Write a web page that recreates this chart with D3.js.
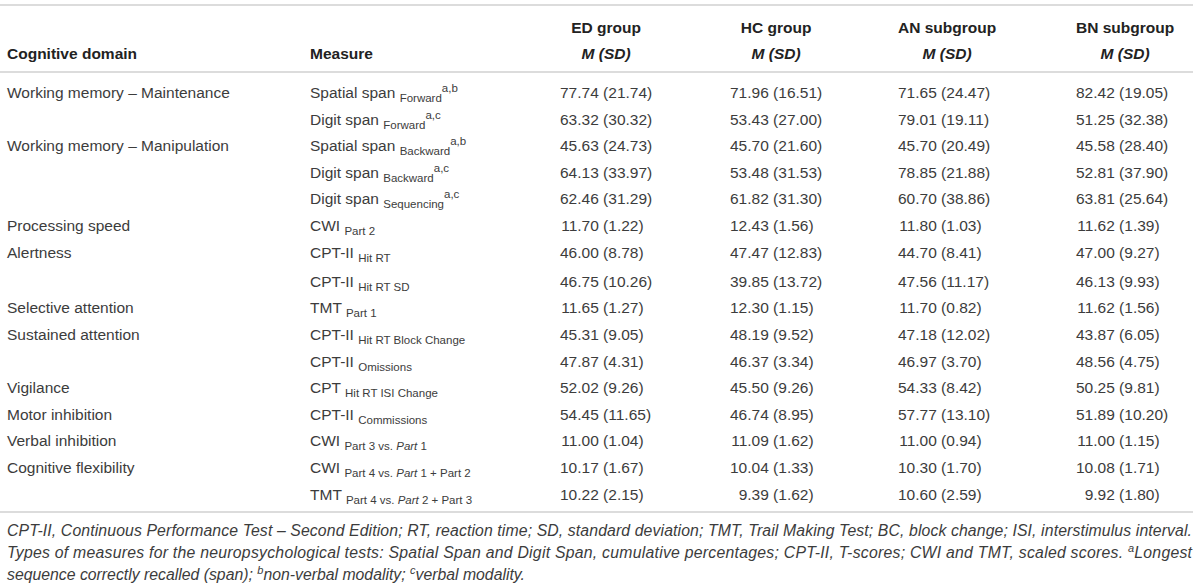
<!DOCTYPE html>
<html>
<head>
<meta charset="utf-8">
<script src="https://cdn.jsdelivr.net/npm/d3@7"></script>
<style>
  html, body { margin: 0; padding: 0; background: #fff; }
  svg { display: block; font-family: "Liberation Sans", Arial, sans-serif; }
</style>
</head>
<body>
<svg id="chart"></svg>
<script>
// Table content
const groups = ["ED group", "HC group", "AN subgroup", "BN subgroup"]
const domains = [
  "Working memory – Maintenance", "", "Working memory – Manipulation", "", "",
  "Processing speed", "Alertness", "", "Selective attention", "Sustained attention", "",
  "Vigilance", "Motor inhibition", "Verbal inhibition", "Cognitive flexibility", ""
]
const measureNames = [
  "Spatial span", "Digit span", "Spatial span", "Digit span", "Digit span",
  "CWI", "CPT-II", "CPT-II", "TMT", "CPT-II", "CPT-II", "CPT", "CPT-II", "CWI", "CWI", "TMT"
]
// *...* marks italic parts of a subscript
const measureSubs = [
  "Forward", "Forward", "Backward", "Backward", "Sequencing",
  "Part 2", "Hit RT", "Hit RT SD", "Part 1", "Hit RT Block Change", "Omissions",
  "Hit RT ISI Change", "Commissions", "Part 3 vs. *Part* 1",
  "Part 4 vs. *Part* 1 + Part 2", "Part 4 vs. *Part* 2 + Part 3"
]
const measureSups = ["a,b", "a,c", "a,b", "a,c", "a,c", "", "", "", "", "", "", "", "", "", "", ""]

const edMean = [77.74, 63.32, 45.63, 64.13, 62.46, 11.70, 46.00, 46.75, 11.65, 45.31, 47.87, 52.02, 54.45, 11.00, 10.17, 10.22]
const edSD   = [21.74, 30.32, 24.73, 33.97, 31.29, 1.22, 8.78, 10.26, 1.27, 9.05, 4.31, 9.26, 11.65, 1.04, 1.67, 2.15]
const hcMean = [71.96, 53.43, 45.70, 53.48, 61.82, 12.43, 47.47, 39.85, 12.30, 48.19, 46.37, 45.50, 46.74, 11.09, 10.04, 9.39]
const hcSD   = [16.51, 27.00, 21.60, 31.53, 31.30, 1.56, 12.83, 13.72, 1.15, 9.52, 3.34, 9.26, 8.95, 1.62, 1.33, 1.62]
const anMean = [71.65, 79.01, 45.70, 78.85, 60.70, 11.80, 44.70, 47.56, 11.70, 47.18, 46.97, 54.33, 57.77, 11.00, 10.30, 10.60]
const anSD   = [24.47, 19.11, 20.49, 21.88, 38.86, 1.03, 8.41, 11.17, 0.82, 12.02, 3.70, 8.42, 13.10, 0.94, 1.70, 2.59]
const bnMean = [82.42, 51.25, 45.58, 52.81, 63.81, 11.62, 47.00, 46.13, 11.62, 43.87, 48.56, 50.25, 51.89, 11.00, 10.08, 9.92]
const bnSD   = [19.05, 32.38, 28.40, 37.90, 25.64, 1.39, 9.27, 9.93, 1.56, 6.05, 4.75, 9.81, 10.20, 1.15, 1.71, 1.80]

const footLines = [
  [["CPT-II, Continuous Performance Test – Second Edition; RT, reaction time; SD, standard deviation; TMT, Trail Making Test; BC, block change; ISI, interstimulus interval.", false]],
  [["Types of measures for the neuropsychological tests: Spatial Span and Digit Span, cumulative percentages; CPT-II, T-scores; CWI and TMT, scaled scores. ", false], ["a", true], ["Longest", false]],
  [["sequence correctly recalled (span); ", false], ["b", true], ["non-verbal modality; ", false], ["c", true], ["verbal modality.", false]]
]

const means = [edMean, hcMean, anMean, bnMean]
const sds = [edSD, hcSD, anSD, bnSD]

// Layout
const W = 1200
const H = 586
const FS = 15.5
const SUB_FS = 11.5
const TEXT = "#3c3c3c"
const HEAD = "#222"
const RULE = "#dcdcdc"

const svg = d3.select("#chart").attr("width", W).attr("height", H)
svg.append("rect").attr("width", W).attr("height", H).attr("fill", "#fff")

const rows = d3.range(domains.length)
const yRow = d3.scalePoint().domain(rows).range([98, 98 + 26.6 * (rows.length - 1)])
// rows below the Alertness block sit a little lower in the original
const rowY = (i) => yRow(i) + (i >= 7 ? 2.5 : 0)

const colLeft = d3.scaleOrdinal().domain(groups).range([560, 730, 898, 1076])
const X_DOMAIN = 7
const X_MEASURE = 310

function textWidth(str, weight) {
  const t = svg.append("text").attr("font-size", FS).attr("font-weight", weight || "normal").text(str)
  const w = t.node().getComputedTextLength()
  t.remove()
  return w
}

// Rules
const rules = [5, 72, 512]
svg.selectAll("line.rule")
  .data(rules)
  .join("line")
  .attr("class", "rule")
  .attr("x1", 0)
  .attr("x2", 1193)
  .attr("y1", (d) => d)
  .attr("y2", (d) => d)
  .attr("stroke", RULE)
  .attr("stroke-width", 2)

// Header
const head = svg.append("g").attr("font-weight", "bold").attr("font-size", FS).attr("fill", HEAD)
head.append("text").attr("x", X_DOMAIN).attr("y", 59).text("Cognitive domain")
head.append("text").attr("x", X_MEASURE).attr("y", 59).text("Measure")

const fmt = d3.format(".2f")

groups.forEach((g, gi) => {
  const left = colLeft(g)
  const meanW = d3.max(means[gi], (m) => textWidth(fmt(m)))
  const spaceW = textWidth("0 0") - textWidth("00")
  const valW = d3.max(rows, (i) => textWidth(`${fmt(means[gi][i])} (${fmt(sds[gi][i])})`))
  const headW = textWidth(g, "bold")
  const colW = Math.max(valW, headW)
  const cx = left + colW / 2

  head.append("text").attr("x", cx).attr("y", 33).attr("text-anchor", "middle").text(g)
  head.append("text").attr("x", cx).attr("y", 59).attr("text-anchor", "middle")
    .attr("font-style", "italic").text("M (SD)")

  const col = svg.append("g").attr("font-size", FS).attr("fill", TEXT)
  col.selectAll("text.mean")
    .data(rows)
    .join("text")
    .attr("class", "mean")
    .attr("x", left + meanW)
    .attr("y", (i) => rowY(i))
    .attr("text-anchor", "end")
    .text((i) => fmt(means[gi][i]))
  col.selectAll("text.sd")
    .data(rows)
    .join("text")
    .attr("class", "sd")
    .attr("x", left + meanW + spaceW)
    .attr("y", (i) => rowY(i))
    .text((i) => `(${fmt(sds[gi][i])})`)
})

// Domain column
const body = svg.append("g").attr("font-size", FS).attr("fill", TEXT)
body.selectAll("text.domain")
  .data(rows.filter((i) => domains[i]))
  .join("text")
  .attr("class", "domain")
  .attr("x", X_DOMAIN)
  .attr("y", (i) => rowY(i))
  .text((i) => domains[i])

// Measure column with subscripts and superscripts
rows.forEach((i) => {
  const t = body.append("text").attr("x", X_MEASURE).attr("y", rowY(i))
  t.append("tspan").text(measureNames[i] + " ")
  const parts = measureSubs[i].split("*")
  parts.forEach((p, k) => {
    if (!p) return
    const s = t.append("tspan").attr("font-size", SUB_FS).text(p)
    if (k === 0) s.attr("dy", 4)
    if (k % 2 === 1) s.attr("font-style", "italic")
  })
  if (measureSups[i]) {
    t.append("tspan").attr("font-size", SUB_FS).attr("dy", -10).text(measureSups[i])
  }
})

// Footnote
const foot = svg.append("g").attr("font-size", 15.8).attr("font-style", "italic").attr("fill", TEXT)
const footY = [536, 558, 580]
footLines.forEach((segs, li) => {
  const t = foot.append("text").attr("x", X_DOMAIN).attr("y", footY[li])
  let raised = false
  segs.forEach(([str, sup]) => {
    const s = t.append("tspan").text(str)
    if (sup) {
      s.attr("font-size", 11).attr("dy", -6)
      raised = true
    } else if (raised) {
      s.attr("dy", 6)
      raised = false
    }
  })
  if (li < footLines.length - 1) {
    t.attr("textLength", 1192 - X_DOMAIN).attr("lengthAdjust", "spacing")
  }
})
</script>
</body>
</html>
